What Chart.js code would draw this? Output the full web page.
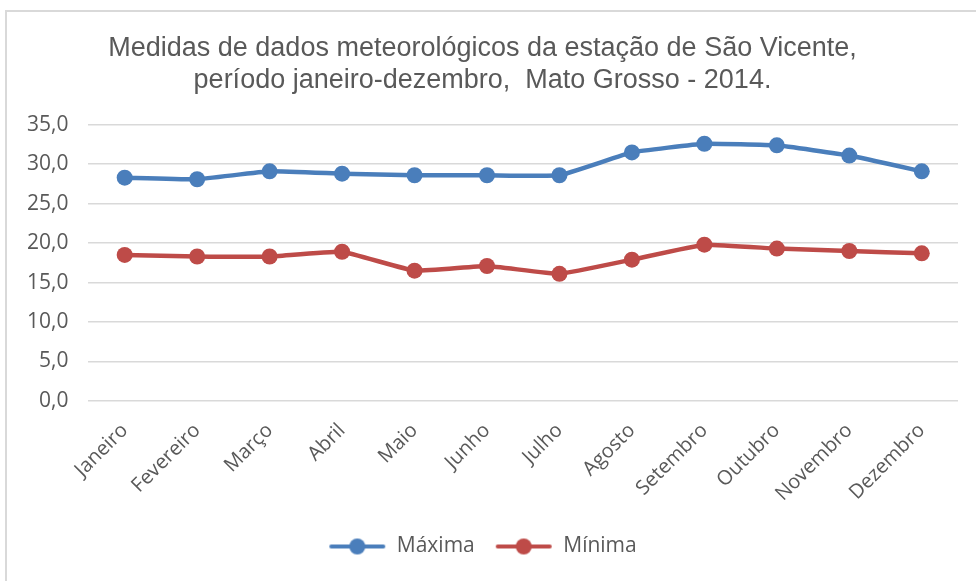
<!DOCTYPE html>
<html>
<head>
<meta charset="utf-8">
<script src="https://cdn.jsdelivr.net/npm/chart.js@4"></script>
<style>
  html, body { margin: 0; padding: 0; background: #fff; }
  #frame {
    position: absolute; left: 5px; top: 10px; width: 971px; height: 571px;
    border-left: 2px solid #d9d9d9; border-top: 2px solid #d9d9d9;
  }
  #wrap { position: absolute; left: 0; top: 0; width: 976px; height: 581px; }
</style>
</head>
<body>
<div id="frame"></div>
<div id="wrap"><canvas id="myChart" width="976" height="581"></canvas></div>
<script>
const meses = ["Janeiro", "Fevereiro", "Março", "Abril", "Maio", "Junho",
   "Julho", "Agosto", "Setembro", "Outubro", "Novembro", "Dezembro"];
const maxima = [28.3, 28.1, 29.1, 28.8, 28.6, 28.6, 28.6, 31.5, 32.6, 32.4, 31.1, 29.1];
const minima = [18.5, 18.3, 18.3, 18.9, 16.5, 17.1, 16.1, 17.9, 19.8, 19.3, 19.0, 18.7];
const titulo = ["Medidas de dados meteorológicos da estação de São Vicente,",
   "período janeiro-dezembro,  Mato Grosso - 2014."];

const azul = "#4a7ebb";
const vermelho = "#be4b48";
const cinza = "#595959";

// legend marker: line with a dot in the middle, like Excel
function marker(cor) {
   const c = document.createElement("canvas");
   c.width = 58;
   c.height = 18;
   const g = c.getContext("2d");
   g.strokeStyle = cor;
   g.lineWidth = 4;
   g.lineCap = "round";
   g.beginPath();
   g.moveTo(3, 9);
   g.lineTo(55, 9);
   g.stroke();
   g.fillStyle = cor;
   g.beginPath();
   g.arc(29, 9, 8, 0, Math.PI * 2);
   g.fill();
   return c;
}

const ctx = document.getElementById("myChart").getContext("2d");
new Chart(ctx, {
   type: "line",
   data: {
      labels: meses,
      datasets: [
         {
            label: "Máxima",
            data: maxima,
            borderColor: azul,
            backgroundColor: azul,
            borderWidth: 4.5,
            pointRadius: 8,
            pointHoverRadius: 8,
            pointBorderWidth: 0,
            tension: 0.1,
            fill: false,
         },
         {
            label: "Mínima",
            data: minima,
            borderColor: vermelho,
            backgroundColor: vermelho,
            borderWidth: 4.5,
            pointRadius: 8,
            pointHoverRadius: 8,
            pointBorderWidth: 0,
            tension: 0.1,
            fill: false,
         },
      ],
   },
   options: {
      responsive: false,
      animation: false,
      layout: {
         padding: { left: 7, right: 18, top: 32, bottom: 14 },
      },
      scales: {
         x: {
            offset: true,
            grid: { display: false },
            border: { display: false },
            ticks: {
               color: cinza,
               font: { family: "Open Sans", size: 20 },
               maxRotation: 45,
               minRotation: 45,
               padding: 10,
            },
         },
         y: {
            min: 0,
            max: 35,
            grid: { color: "#d9d9d9", lineWidth: 1.5, drawTicks: false },
            border: { display: false },
            ticks: {
               stepSize: 5,
               color: cinza,
               padding: 20,
               font: { family: "Open Sans", size: 21 },
               callback: (v) => v.toFixed(1).replace(".", ","),
            },
         },
      },
      plugins: {
         title: {
            display: true,
            text: titulo,
            color: cinza,
            font: { family: "Liberation Sans", size: 27, weight: "normal", lineHeight: 1.2 },
            padding: { top: 0, bottom: 28 },
         },
         legend: {
            position: "bottom",
            labels: {
               color: cinza,
               font: { family: "Open Sans", size: 21 },
               usePointStyle: true,
               pointStyleWidth: 58,
               padding: 20,
               generateLabels: (chart) =>
                  chart.data.datasets.map((ds, i) => ({
                     text: ds.label,
                     fontColor: cinza,
                     pointStyle: marker(ds.borderColor),
                     datasetIndex: i,
                     hidden: false,
                     lineWidth: 0,
                  })),
            },
         },
         tooltip: { enabled: false },
      },
   },
});
</script>
</body>
</html>
